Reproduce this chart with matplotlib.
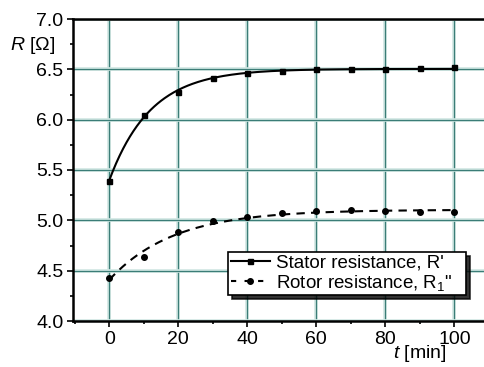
import numpy as np
import matplotlib
matplotlib.use('Agg')
import matplotlib.pyplot as plt
from matplotlib.ticker import MultipleLocator, FormatStrFormatter
import matplotlib.patheffects as pe

# Data
t = np.array([0, 10, 20, 30, 40, 50, 60, 70, 80, 90, 100])
r_stator = np.array([5.39, 6.05, 6.27, 6.41, 6.46, 6.48, 6.50, 6.50, 6.50, 6.51, 6.52])
r_rotor = np.array([4.43, 4.64, 4.88, 4.99, 5.03, 5.07, 5.09, 5.10, 5.09, 5.08, 5.08])
labels = ["Stator resistance, R'", 'Rotor resistance, R$_1$"']


# Exponential fit R = a - b*exp(-t/tau), tau by grid search
def exp_fit(x, y):
    best = None
    for tau in np.linspace(2, 40, 400):
        A = np.column_stack([np.ones_like(x, dtype=float), -np.exp(-x / tau)])
        coef, *_ = np.linalg.lstsq(A, y, rcond=None)
        err = np.sum((A @ coef - y) ** 2)
        if best is None or err < best[0]:
            best = (err, coef, tau)
    _, (a, b), tau = best
    return lambda z: a - b * np.exp(-z / tau)


tt = np.linspace(0, 100, 300)
fit_s = exp_fit(t, r_stator)
fit_r = exp_fit(t, r_rotor)

plt.rcParams['font.family'] = 'Liberation Sans'
plt.rcParams['mathtext.fontset'] = 'custom'
plt.rcParams['mathtext.it'] = 'Liberation Sans:italic'
plt.rcParams['mathtext.rm'] = 'Liberation Sans'

fig = plt.figure(figsize=(4.84, 3.67), dpi=100)
ax = fig.add_axes([73 / 484, 1 - 321 / 367, (484 - 73) / 484 + 0.01, (321 - 19) / 367])

# thin dark teal grid with a pale halo
ax.grid(True, which='major', color='#3b7d77', linewidth=0.9,
        path_effects=[pe.Stroke(linewidth=2.6, foreground='#cfe6e2'), pe.Normal()])

ax.plot(tt, fit_s(tt), '-', color='black', lw=1.5)
ax.plot(t, r_stator, 's', color='black', ms=3.6)
ax.plot(tt, fit_r(tt), '--', color='black', lw=1.5, dashes=(4, 3))
ax.plot(t, r_rotor, 'o', color='black', ms=4)

# legend handles
h1, = ax.plot([], [], '-s', color='black', ms=3.6, lw=1.5)
h2, = ax.plot([], [], '--o', color='black', ms=4, lw=1.5, dashes=(2.5, 4))
leg = ax.legend([h1, h2], [s + '   ' for s in labels],
                loc='lower right', bbox_to_anchor=(0.945, 0.085), fontsize=13.5,
                frameon=True, fancybox=False,
                shadow={'ox': 3, 'oy': -3, 'color': 'black', 'alpha': 0.8},
                handlelength=2.1, handletextpad=0.3, borderpad=0.15,
                labelspacing=0.05, borderaxespad=0)
leg.get_frame().set_edgecolor('black')
leg.get_frame().set_linewidth(1.2)
leg.get_frame().set_alpha(1)

ax.set_xlim(-10.5, 110)
ax.set_ylim(4.0, 7.0)
ax.xaxis.set_major_locator(MultipleLocator(20))
ax.xaxis.set_minor_locator(MultipleLocator(10))
ax.yaxis.set_major_locator(MultipleLocator(0.5))
ax.yaxis.set_minor_locator(MultipleLocator(0.25))
ax.yaxis.set_major_formatter(FormatStrFormatter('%.1f'))
ax.tick_params(which='both', direction='out', labelsize=14, width=1.2, color='black', pad=3)
ax.tick_params(which='major', length=4)
ax.tick_params(which='minor', length=2.5)
ax.spines['right'].set_visible(False)
for s in ['left', 'bottom', 'top']:
    ax.spines[s].set_linewidth(1.8)

fig.text(10 / 484, 1 - 45 / 367, r'$R$ [Ω]', fontsize=14, va='center', ha='left')
fig.text(447 / 484, 1 - 353 / 367, r'$t$ [min]', fontsize=14, va='center', ha='right')

fig.savefig('out.png', dpi=100)
